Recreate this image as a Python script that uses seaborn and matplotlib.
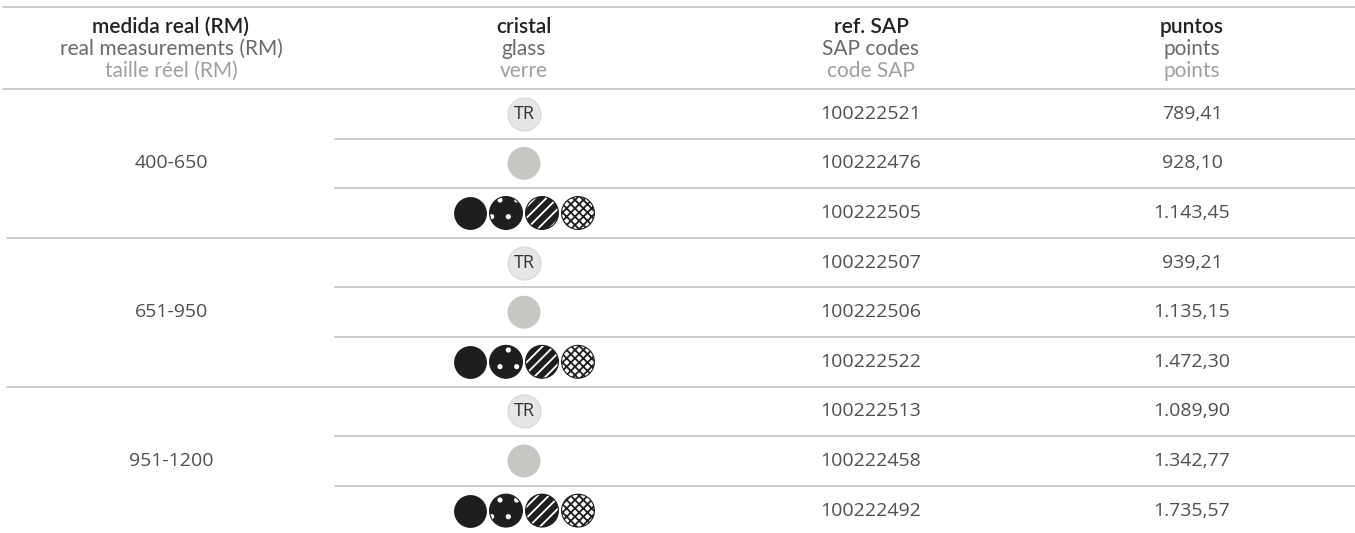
import numpy as np
import pandas as pd
import matplotlib.pyplot as plt
import seaborn as sns

sns.set_theme(style="white")
plt.rcParams['font.family'] = ['Lato', 'DejaVu Sans']

# table content
headers_es = ["medida real (RM)", "cristal", "ref. SAP", "puntos"]
headers_en = ["real measurements (RM)", "glass", "SAP codes", "points"]
headers_fr = ["taille réel (RM)", "verre", "code SAP", "points"]
ranges = ["400-650", "651-950", "951-1200"]
glass = ["TR", "grey", "patterns"] * 3
sap_codes = ["100222521", "100222476", "100222505",
             "100222507", "100222506", "100222522",
             "100222513", "100222458", "100222492"]
points = ["789,41", "928,10", "1.143,45",
          "939,21", "1.135,15", "1.472,30",
          "1.089,90", "1.342,77", "1.735,57"]

df = pd.DataFrame({"glass": glass, "sap": sap_codes, "points": points})
df["group"] = np.repeat(ranges, 3)
df["row"] = np.arange(len(df))

W, H = 1355, 533
fig = plt.figure(figsize=(W / 100, H / 100), dpi=100)
ax = fig.add_axes([0, 0, 1, 1])
ax.set_xlim(0, W)
ax.set_ylim(H, 0)
ax.axis("off")

col_x = [171, 524, 871, 1192]
top_y, head_y, row_h = 7, 89, 49.6
line_c = "#c8c8c8"

def row_mid(i):
    return head_y + (i + 0.5) * row_h

# header
ax.axhline(top_y, xmin=3 / W, xmax=1, color=line_c, lw=1.3)
ax.axhline(head_y, xmin=3 / W, xmax=1, color=line_c, lw=1.3)
for x, a, b, c in zip(col_x, headers_es, headers_en, headers_fr):
    ax.text(x, 27, a, ha="center", va="center", fontsize=15, color="#222222", fontweight="semibold")
    ax.text(x, 49, b, ha="center", va="center", fontsize=15, color="#6a6a6a")
    ax.text(x, 71, c, ha="center", va="center", fontsize=15, color="#a0a0a0")

# row separators
for i in range(1, len(df)):
    y = head_y + i * row_h
    start = 7 if i % 3 == 0 else 335
    ax.plot([start, W], [y, y], color=line_c, lw=1.3)

body = dict(ha="center", va="center", fontsize=14, color="#505050",
            family=["Open Sans", "DejaVu Sans"])
for g, name in enumerate(ranges):
    ax.text(col_x[0], row_mid(g * 3 + 1), name, **body)

for _, r in df.iterrows():
    y = row_mid(r["row"])
    ax.text(col_x[2], y, r["sap"], **body)
    ax.text(col_x[3], y, r["points"], **body)

# glass swatches
s = 560
tr = df[df["glass"] == "TR"]
sns.scatterplot(x=[col_x[1]] * len(tr), y=[row_mid(i) for i in tr["row"]], ax=ax,
                s=s, color="#e6e6e6", edgecolor="#dadada", linewidth=1, legend=False, zorder=3)
for i in tr["row"]:
    ax.text(col_x[1], row_mid(i), "TR", ha="center", va="center", fontsize=13,
            color="#333333", family=["Open Sans", "DejaVu Sans"], zorder=4)

gr = df[df["glass"] == "grey"]
sns.scatterplot(x=[col_x[1]] * len(gr), y=[row_mid(i) for i in gr["row"]], ax=ax,
                s=s, color="#c4c7c2", edgecolor="none", legend=False, zorder=3)

pt = df[df["glass"] == "patterns"]
offsets = [-54, -18, 18, 54]
styles = [("#1e1e1e", "#1e1e1e", None),
          ("#1e1e1e", "white", "."),
          ("#1e1e1e", "white", "///"),
          ("white", "#1e1e1e", "xxxx")]
plt.rcParams['hatch.linewidth'] = 1.3
for dx, (fc, ec, hatch) in zip(offsets, styles):
    ys = [row_mid(i) for i in pt["row"]]
    ax.scatter([col_x[1] + dx] * len(ys), ys, s=s, facecolor=fc, edgecolor=ec,
               hatch=hatch, linewidth=0, zorder=3)
    if hatch:
        ax.scatter([col_x[1] + dx] * len(ys), ys, s=s, facecolor="none",
                   edgecolor="#1e1e1e", linewidth=0.8, zorder=4)

fig.savefig("out.png", dpi=100)
